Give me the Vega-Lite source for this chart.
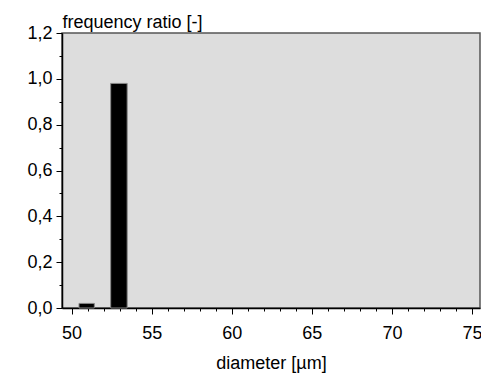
{
  "$schema": "https://vega.github.io/schema/vega-lite/v6.json",
  "width": 418,
  "height": 275,
  "autosize": "none",
  "padding": {"left": 62, "top": 33, "right": 1, "bottom": 65},
  "background": "white",
  "config": {
    "font": "Liberation Sans",
    "view": {"fill": "#dddddd", "stroke": "#555555", "strokeWidth": 1.5},
    "axis": {"labelFont": "Liberation Sans", "titleFont": "Liberation Sans", "labelColor": "black", "titleColor": "black", "domainColor": "black", "tickColor": "black", "grid": false}
  },
  "data": {
    "values": [
      {"d0": 50.46, "d1": 51.42, "ratio": 0.02},
      {"d0": 52.44, "d1": 53.47, "ratio": 0.98}
    ]
  },
  "mark": {"type": "bar", "color": "black", "stroke": "#888888", "strokeWidth": 1},
  "encoding": {
    "x": {
      "field": "d0", "type": "quantitative",
      "scale": {"domain": [49.4, 75.5], "nice": false, "zero": false},
      "axis": {
        "title": "diameter [µm]",
        "titleFontSize": 18, "titleFontWeight": "normal", "titlePadding": 12,
        "labelFontSize": 18, "labelPadding": 10,
        "values": [50,51,52,53,54,55,56,57,58,59,60,61,62,63,64,65,66,67,68,69,70,71,72,73,74,75],
        "labelExpr": "datum.value % 5 == 0 ? datum.value : ''",
        "tickSize": {"condition": {"test": "datum.value % 5 == 0", "value": 6}, "value": 3},
        "domainWidth": 1.5, "tickWidth": 1, "labelFlush": false
      }
    },
    "x2": {"field": "d1"},
    "y": {
      "field": "ratio", "type": "quantitative",
      "scale": {"domain": [0, 1.2], "nice": false},
      "axis": {
        "title": "frequency ratio [-]",
        "titleFontSize": 18, "titleFontWeight": "normal",
        "titleAngle": 0, "titleX": 0, "titleY": -6, "titleAlign": "left", "titleBaseline": "alphabetic",
        "labelFontSize": 18, "labelPadding": 4,
        "values": [0, 0.1, 0.2, 0.3, 0.4, 0.5, 0.6, 0.7, 0.8, 0.9, 1.0, 1.1, 1.2],
        "labelExpr": "round(datum.value*10) % 2 == 0 ? replace(format(datum.value, '.1f'), '.', ',') : ''",
        "tickSize": {"condition": {"test": "round(datum.value*10) % 2 == 0", "value": 6}, "value": 3},
        "domainWidth": 1.5, "tickWidth": 1, "labelFlush": false
      }
    },
    "y2": {"datum": 0}
  }
}
